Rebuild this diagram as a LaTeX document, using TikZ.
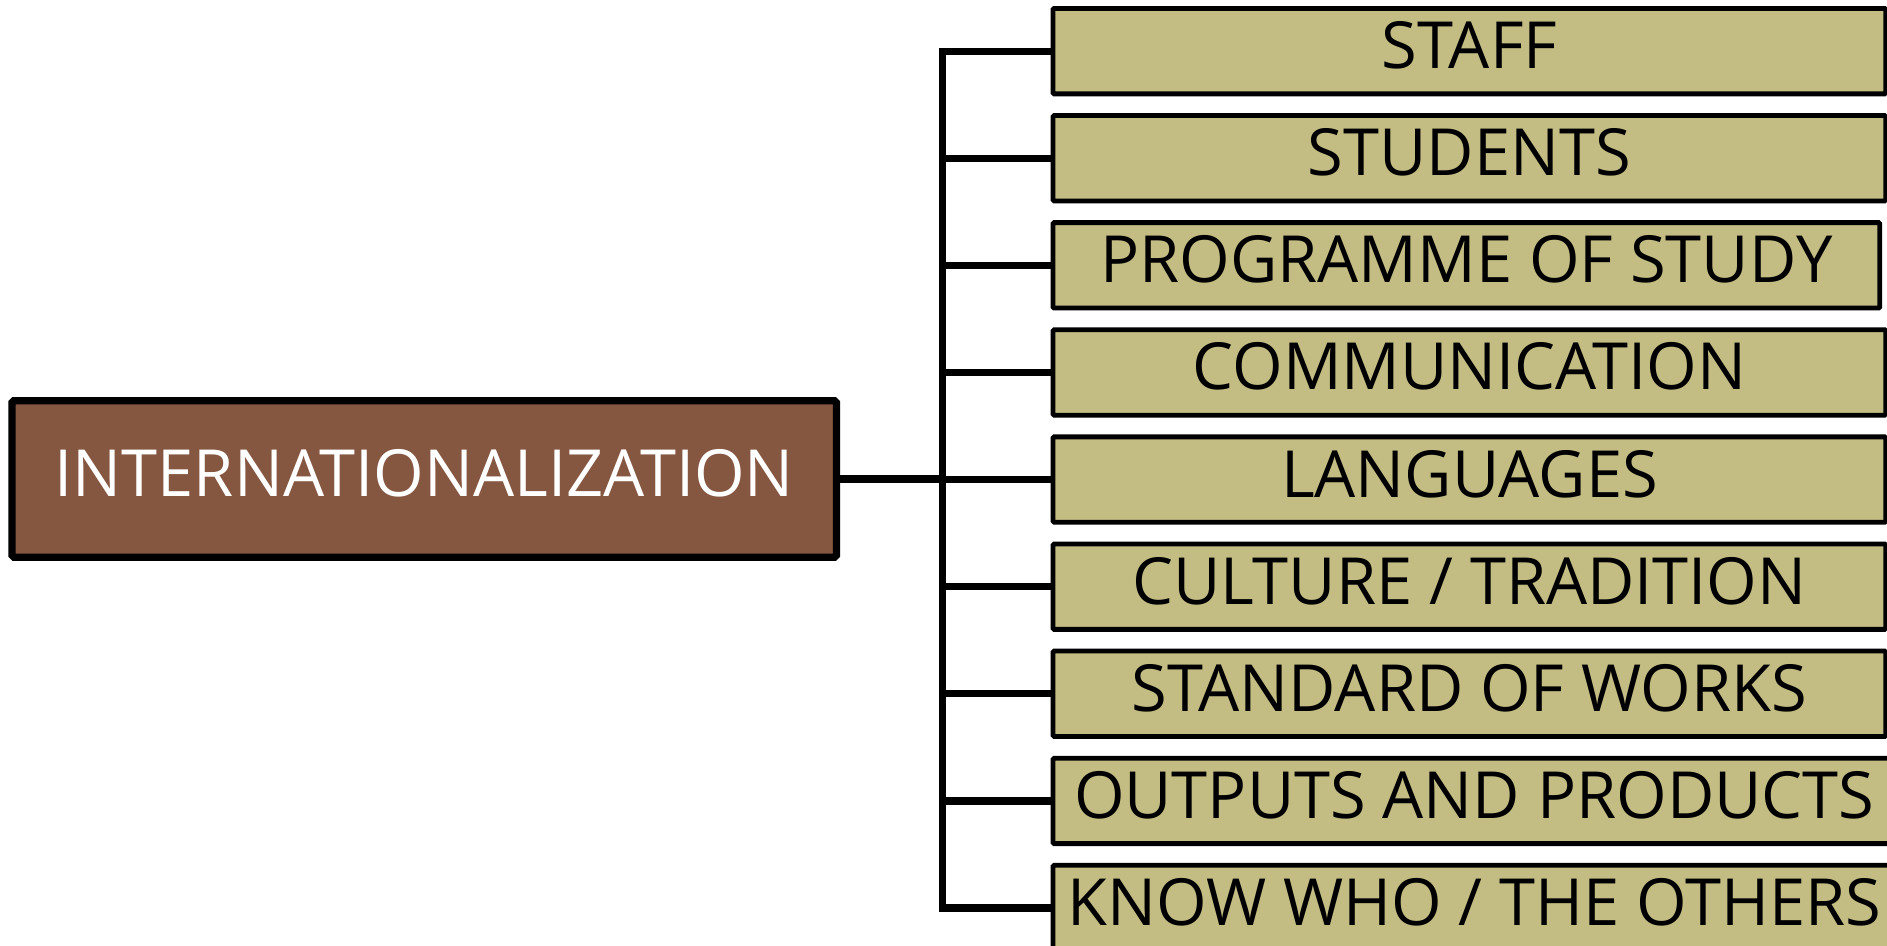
\documentclass[tikz,border=0pt]{standalone}
\usepackage{fontspec}
\setmainfont{Open Sans}
\definecolor{brownfill}{HTML}{855640}
\definecolor{khaki}{HTML}{C3BC83}
\tikzset{
  bigfont/.style={font=\fontsize{54}{58}\selectfont},
  mainbox/.style={draw=black, line width=6pt, fill=brownfill, text=white, bigfont,
    minimum width=685pt, minimum height=130pt, inner sep=0pt, rounded corners=1.5pt,
    text height=39pt, text depth=10pt},
  itembox/.style={draw=black, line width=4pt, fill=khaki, text=black, bigfont,
    minimum height=71pt, inner sep=0pt, anchor=west, rounded corners=1pt,
    text height=39pt, text depth=10pt},
  conn/.style={draw=black, line width=6pt}
}
\begin{document}
\begin{tikzpicture}[x=1pt,y=-1pt]
\useasboundingbox (0,0) rectangle (1568,786);
\node[mainbox] (main) at (352.5,398) {INTERNATIONALIZATION};
\coordinate (jn) at (783,398);
\node[itembox, minimum width=692pt] (i1) at (873,42.5) {STAFF};
\node[itembox, minimum width=692pt] (i2) at (873,131.5) {STUDENTS};
\node[itembox, minimum width=687pt] (i3) at (873,220.5) {PROGRAMME OF STUDY};
\node[itembox, minimum width=692pt] (i4) at (873,309.5) {COMMUNICATION};
\node[itembox, minimum width=692pt] (i5) at (873,398.5) {LANGUAGES};
\node[itembox, minimum width=692pt] (i6) at (873,487.5) {CULTURE / TRADITION};
\node[itembox, minimum width=692pt] (i7) at (873,576.5) {STANDARD OF WORKS};
\node[itembox, minimum width=700pt] (i8) at (873,665.5) {OUTPUTS AND PRODUCTS};
\node[itembox, minimum width=700pt] (i9) at (873,754.5) {KNOW WHO / THE OTHERS};
\draw[conn] (main.east) -- (jn);
\foreach \i in {1,...,9} {
  \draw[conn] (jn) |- (i\i.west);
}
\end{tikzpicture}
\end{document}
